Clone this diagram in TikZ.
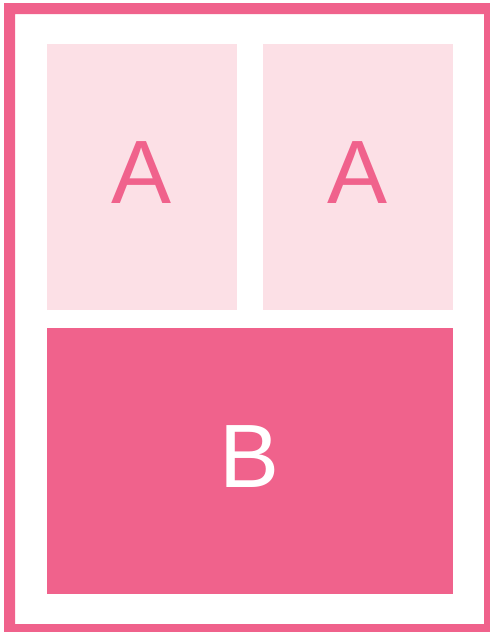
\documentclass[tikz,border=0pt]{standalone}
\usepackage{fontspec}
\setmainfont{Liberation Sans}
\definecolor{pinkdark}{HTML}{F0628C}
\definecolor{pinklight}{HTML}{FCE0E6}
\tikzset{
  panel/.style={draw=none, inner sep=0pt, outer sep=0pt, anchor=north west, text depth=8pt, font=\fontsize{90}{90}\selectfont},
  panelA/.style={panel, fill=pinklight, text=pinkdark},
  panelB/.style={panel, fill=pinkdark, text=white},
}
\begin{document}
\begin{tikzpicture}[x=1pt,y=1pt]
\useasboundingbox (0,0) rectangle (490,-632);
\fill[white] (0,0) rectangle (490,-632);
\fill[pinkdark, even odd rule] (4,-3) rectangle (490,-632) (15,-14) rectangle (484,-624);
\node[panelA, minimum width=190pt, minimum height=266pt] (a1) at (47,-44) {A};
\node[panelA, minimum width=190pt, minimum height=266pt] (a2) at (263,-44) {A};
\node[panelB, minimum width=406pt, minimum height=266pt] (b) at (47,-328) {B};
\end{tikzpicture}
\end{document}
